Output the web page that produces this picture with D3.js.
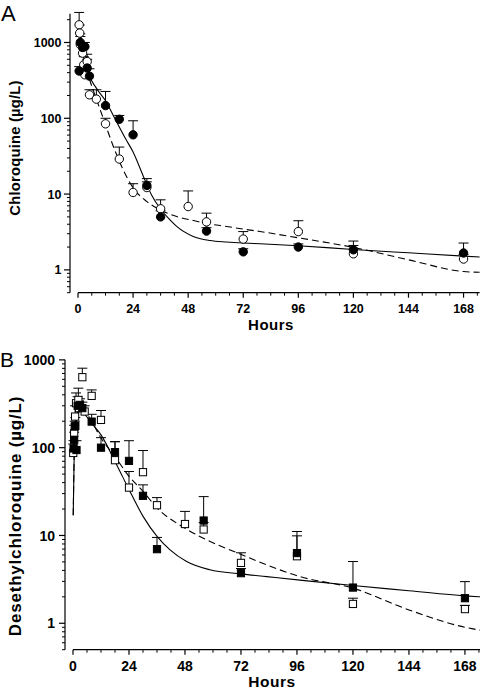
<!DOCTYPE html>
<html><head><meta charset="utf-8">
<script src="https://cdn.jsdelivr.net/npm/d3@7"></script>
<style>
html,body{margin:0;padding:0;background:#fff;}
svg text{font-family:"Liberation Sans",Arial,sans-serif;}
</style></head>
<body><svg id="c" width="480" height="690"></svg>
<script>
// ---------- Panel A: Chloroquine ----------
const aFilledT   = [0.5, 1, 2, 3, 4, 5, 12, 18, 24, 30, 36, 56, 72, 96, 120, 168];
const aFilledV   = [420, 1000, 860, 880, 460, 360, 147, 97, 60.5, 13, 5.0, 3.25, 1.73, 2.0, 1.84, 1.67];
const aFilledErr = [480, 1300, 1000, 1000, 600, 450, 226, 109, 92.7, 16, 6, 3.6, 1.9, 2.2, 2.4, 2.26];
const aOpenT     = [0.5, 0.75, 1, 2, 2.5, 3, 4, 5, 8, 12, 18, 24, 30, 36, 48, 56, 72, 96, 120, 168];
const aOpenV     = [1710, 1330, 940, 724, 508, 375, 560, 204, 179, 84.5, 29, 10.5, 12.2, 6.4, 6.85, 4.3, 2.55, 3.2, 1.63, 1.39];
const aOpenErr   = [2490, 1700, 1200, 900, 650, 420, 700, 238, 238, 100, 41.7, 13.7, 14.5, 8.4, 11.0, 5.6, 3.2, 4.45, 2.1, 1.6];
const aSolidT    = [0.3, 1, 2, 3, 5, 8, 12, 16, 21, 24, 28.5, 32, 35.7, 40, 43, 50.2, 57.5, 64.8, 72, 79.3, 96, 120, 144, 168, 175];
const aSolidV    = [1700, 1300, 950, 700, 370, 250, 170, 100, 52, 36, 17.1, 9.8, 6.5, 4.6, 3.74, 2.76, 2.44, 2.33, 2.26, 2.21, 2.08, 1.86, 1.68, 1.52, 1.48];
const aDashT     = [0.3, 1, 2, 3, 5, 8, 11, 15.4, 19.7, 24.1, 29.9, 35.7, 43, 50.2, 57.5, 64.8, 72, 79.3, 96, 120, 144, 168, 175];
const aDashV     = [1700, 1200, 800, 560, 330, 180, 100, 42.5, 20.9, 12.0, 8.0, 6.2, 5.06, 4.48, 4.02, 3.74, 3.45, 3.21, 2.65, 1.98, 1.36, 0.95, 0.93];
const aYTicks    = [1, 10, 100, 1000];
// ---------- Panel B: Desethylchloroquine ----------
const bFilledT   = [0.25, 0.5, 0.75, 1, 1.5, 2, 3, 4, 8, 12, 18, 24, 30, 36, 56, 72, 96, 120, 168];
const bFilledV   = [98, 123, 174, 177, 94, 300, 307, 282, 198, 100, 89, 70.7, 28.3, 6.98, 14.8, 3.72, 6.3, 2.55, 1.93];
const bFilledErr = [120, 150, 200, 220, 120, 380, 360, 330, 240, 130, 117, 120, 37.7, 9.5, 27.7, 4.2, 11.1, 5.05, 2.98];
const bOpenT     = [0.1, 0.5, 0.9, 1.3, 2.3, 2.6, 4, 5, 8, 12, 18, 24, 30, 36, 48, 56, 72, 96, 120, 168];
const bOpenV     = [87, 146, 226, 321, 350, 282, 635, 258, 389, 207, 72, 35.1, 52.6, 22.1, 13.5, 11.7, 4.87, 5.8, 1.66, 1.45];
const bOpenErr   = [110, 180, 300, 420, 476, 340, 804, 300, 455, 265, 117, 53.5, 92.8, 27, 18.8, 14, 6.35, 9.9, 1.93, 1.6];
const bSolidT    = [0.1, 0.5, 1, 2, 3, 5, 8, 12, 18.7, 24.1, 30.1, 36.1, 41.6, 48.7, 58.7, 72, 83, 97.3, 120, 144, 168, 175];
const bSolidV    = [17, 80, 160, 240, 260, 240, 190, 140, 64, 33, 16.4, 9.7, 6.86, 5.05, 4.06, 3.65, 3.4, 3.1, 2.69, 2.35, 2.05, 2.0];
const bDashT     = [0.1, 0.5, 1, 2, 3, 5, 8, 11.6, 18, 24.1, 30.1, 36.1, 48, 55.9, 71.9, 83, 97.3, 120, 144, 168, 175];
const bDashV     = [17, 80, 170, 260, 285, 260, 200, 134, 79, 46.9, 31.6, 20.5, 12.1, 9.3, 6.1, 4.62, 3.4, 2.51, 1.42, 0.90, 0.83];
const bYTicks    = [1, 10, 100, 1000];
const xTicks     = [0, 24, 48, 72, 96, 120, 144, 168];

const svg = d3.select("#c");

function panel(o){
  const g = svg.append("g");
  const x = d3.scaleLinear().domain([0,175]).range([o.x0, o.x0 + 175*o.pxh]);
  const y = d3.scaleLog().domain([0.5, o.ymax]).range([o.yb, o.yb - o.dec*Math.log10(o.ymax/0.5)]);
  // y axis
  const yMinor = [];
  for (let d=0.1; d<=1000; d*=10) for (let k=1;k<10;k++){ const v=+(d*k).toPrecision(3); if(v>=0.5 && v<=o.ymax && !o.yTicks.includes(v)) yMinor.push(v); }
  const ya = g.append("g").attr("transform",`translate(${o.ax},0)`);
  ya.append("line").attr("x1",0).attr("x2",0).attr("y1",y(0.5)).attr("y2",y(o.ymax)).attr("stroke","#000").attr("stroke-width",1.2);
  ya.selectAll(".mn").data(yMinor).join("line").attr("x1",-3).attr("x2",0).attr("y1",d=>y(d)).attr("y2",d=>y(d)).attr("stroke","#000");
  ya.selectAll(".mj").data(o.yTicks).join("line").attr("x1",-6).attr("x2",0).attr("y1",d=>y(d)).attr("y2",d=>y(d)).attr("stroke","#000").attr("stroke-width",1.2);
  ya.selectAll(".tl").data(o.yTicks).join("text").attr("x",-o.ylg).attr("y",d=>y(d)).attr("dy","0.36em")
    .attr("text-anchor","end").attr("font-weight","bold").attr("font-size",o.fs).text(d=>d);
  // x axis
  const xa = g.append("g").attr("transform",`translate(0,${o.yb})`);
  xa.append("line").attr("x1",x(0)).attr("x2",x(175)).attr("y1",0).attr("y2",0).attr("stroke","#000").attr("stroke-width",1.2);
  const xMinor = d3.range(0,175,6).filter(v=>v%24!==0);
  xa.selectAll(".mn").data(xMinor).join("line").attr("x1",d=>x(d)).attr("x2",d=>x(d)).attr("y1",0).attr("y2",3).attr("stroke","#000");
  xa.selectAll(".mj").data(xTicks).join("line").attr("x1",d=>x(d)).attr("x2",d=>x(d)).attr("y1",0).attr("y2",5).attr("stroke","#000").attr("stroke-width",1.2);
  xa.selectAll(".tl").data(xTicks).join("text").attr("x",d=>x(d)).attr("y",o.xlab)
    .attr("text-anchor","middle").attr("font-weight","bold").attr("font-size",o.fs).text(d=>d);
  g.append("text").attr("x",o.hx).attr("y",o.hy).attr("text-anchor","middle").attr("font-weight","bold")
    .attr("font-size",o.hfs).attr("letter-spacing","0.5px").text("Hours");
  g.append("text").attr("transform",`translate(${o.tx},${o.ty}) rotate(-90)`).attr("text-anchor","middle")
    .attr("font-weight","bold").attr("font-size",o.tfs).attr("letter-spacing",o.tls).text(o.title);
  g.append("text").attr("x",o.lx).attr("y",o.ly).attr("font-size",o.lfs).text(o.letter);
  // curves
  const line = d3.line().x(d=>x(d[0])).y(d=>y(d[1])).curve(d3.curveMonotoneX);
  g.append("path").attr("d",line(d3.zip(o.sT,o.sV))).attr("fill","none").attr("stroke","#000").attr("stroke-width",1.1);
  g.append("path").attr("d",line(d3.zip(o.dT,o.dV))).attr("fill","none").attr("stroke","#000").attr("stroke-width",1.1).attr("stroke-dasharray","7,4");
  // series
  const series = [
    {t:o.oT, v:o.oV, e:o.oE, fill:"#fff"},
    {t:o.fT, v:o.fV, e:o.fE, fill:"#000"}
  ];
  series.forEach(s=>{
    const pts = d3.zip(s.t, s.v, s.e);
    const eg = g.append("g");
    eg.selectAll("line.v").data(pts).join("line").attr("x1",d=>x(d[0])).attr("x2",d=>x(d[0])).attr("y1",d=>y(d[1])).attr("y2",d=>y(d[2])).attr("stroke","#000");
    eg.selectAll("line.c").data(pts).join("line").attr("x1",d=>x(d[0])-5).attr("x2",d=>x(d[0])+5).attr("y1",d=>y(d[2])).attr("y2",d=>y(d[2])).attr("stroke","#000");
  });
  series.forEach(s=>{
    const pts = d3.zip(s.t, s.v);
    if (o.shape==="circle"){
      g.append("g").selectAll("circle").data(pts).join("circle").attr("cx",d=>x(d[0])).attr("cy",d=>y(d[1])).attr("r",4.2)
        .attr("fill",s.fill).attr("stroke","#000").attr("stroke-width",1);
    } else {
      g.append("g").selectAll("rect").data(pts).join("rect").attr("x",d=>x(d[0])-3.6).attr("y",d=>y(d[1])-3.6).attr("width",7.2).attr("height",7.2)
        .attr("fill",s.fill).attr("stroke","#000").attr("stroke-width",1);
    }
  });
}

panel({x0:78, pxh:2.295, ax:70, yb:292.7, dec:75.8, ymax:2400, yTicks:aYTicks, fs:12.5, ylg:8.5, xlab:20,
  hx:271, hy:330, hfs:15, tx:20, ty:148, tfs:14.8, tls:"0.2px", title:"Chloroquine (\u00b5g/L)", lx:1, ly:21, lfs:22, letter:"A",
  fT:aFilledT, fV:aFilledV, fE:aFilledErr, oT:aOpenT, oV:aOpenV, oE:aOpenErr,
  sT:aSolidT, sV:aSolidV, dT:aDashT, dV:aDashV, shape:"circle"});
panel({x0:73, pxh:2.333, ax:65, yb:649.7, dec:87.8, ymax:1000, yTicks:bYTicks, fs:14, ylg:10, xlab:21,
  hx:272, hy:687, hfs:15.5, tx:21, ty:516, tfs:17, tls:"0.8px", title:"Desethylchloroquine (\u00b5g/L)", lx:0, ly:367, lfs:21, letter:"B",
  fT:bFilledT, fV:bFilledV, fE:bFilledErr, oT:bOpenT, oV:bOpenV, oE:bOpenErr,
  sT:bSolidT, sV:bSolidV, dT:bDashT, dV:bDashV, shape:"square"});
</script></body></html>
